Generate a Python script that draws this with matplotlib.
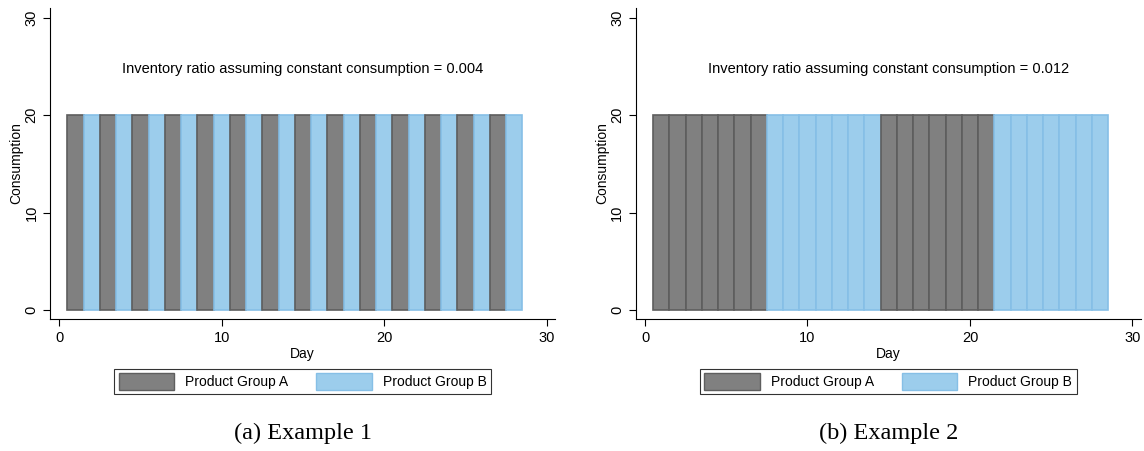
import matplotlib.pyplot as plt
from matplotlib.patches import Patch

# Days and daily consumption
days = list(range(1, 29))
consumption = [20] * 28

# Product group of each day: alternating in (a), weekly blocks in (b)
group_a = ["A" if d % 2 == 1 else "B" for d in days]
group_b = ["A" if ((d - 1) // 7) % 2 == 0 else "B" for d in days]

ratios = [0.004, 0.012]
captions = ["(a) Example 1", "(b) Example 2"]
group_names = {"A": "Product Group A", "B": "Product Group B"}

fill = {"A": "#808080", "B": "#9ccdec"}
edge = {"A": "#5e5e5e", "B": "#86bfe6"}

plt.rcParams["font.family"] = ["Liberation Sans", "DejaVu Sans"]

fig = plt.figure(figsize=(11.44, 4.51), dpi=100)
lefts = [0.044, 0.556]

for i, groups in enumerate([group_a, group_b]):
    ax = fig.add_axes([lefts[i], 0.293, 0.441, 0.689])
    cols = [fill[g] for g in groups]
    ecs = [edge[g] for g in groups]
    ax.bar(days, consumption, width=1.0, color=cols, edgecolor=ecs, linewidth=1.2)

    ax.set_xlim(-0.55, 30.5)
    ax.set_ylim(-0.9, 31)
    ax.set_xticks([0, 10, 20, 30])
    ax.set_yticks([0, 10, 20, 30])
    for s in ["top", "right"]:
        ax.spines[s].set_visible(False)
    ax.tick_params(labelsize=10.5, length=5, width=0.8)
    plt.setp(ax.get_yticklabels(), rotation=90, va="center")
    ax.set_xlabel("Day", fontsize=10, labelpad=2)
    ax.set_ylabel("Consumption", fontsize=10, labelpad=1)

    ax.text(15, 24.8, "Inventory ratio assuming constant consumption = %.3f" % ratios[i],
            ha="center", va="center", fontsize=10.5)

    handles = [Patch(facecolor=fill[k], edgecolor=edge[k], label=group_names[k]) for k in ["A", "B"]]
    leg = ax.legend(handles=handles, loc="upper center", bbox_to_anchor=(0.5, -0.14),
                    ncol=2, frameon=True, fancybox=False, edgecolor="black",
                    fontsize=10, handlelength=4.0, handleheight=1.4, handletextpad=0.8,
                    columnspacing=2.0, borderpad=0.3)
    leg.get_frame().set_linewidth(0.8)

    fig.text(lefts[i] + 0.2205, 0.04, captions[i], ha="center", va="center",
             fontsize=17.5, family=["Liberation Serif", "DejaVu Serif"])

fig.savefig("out.png", dpi=100)
